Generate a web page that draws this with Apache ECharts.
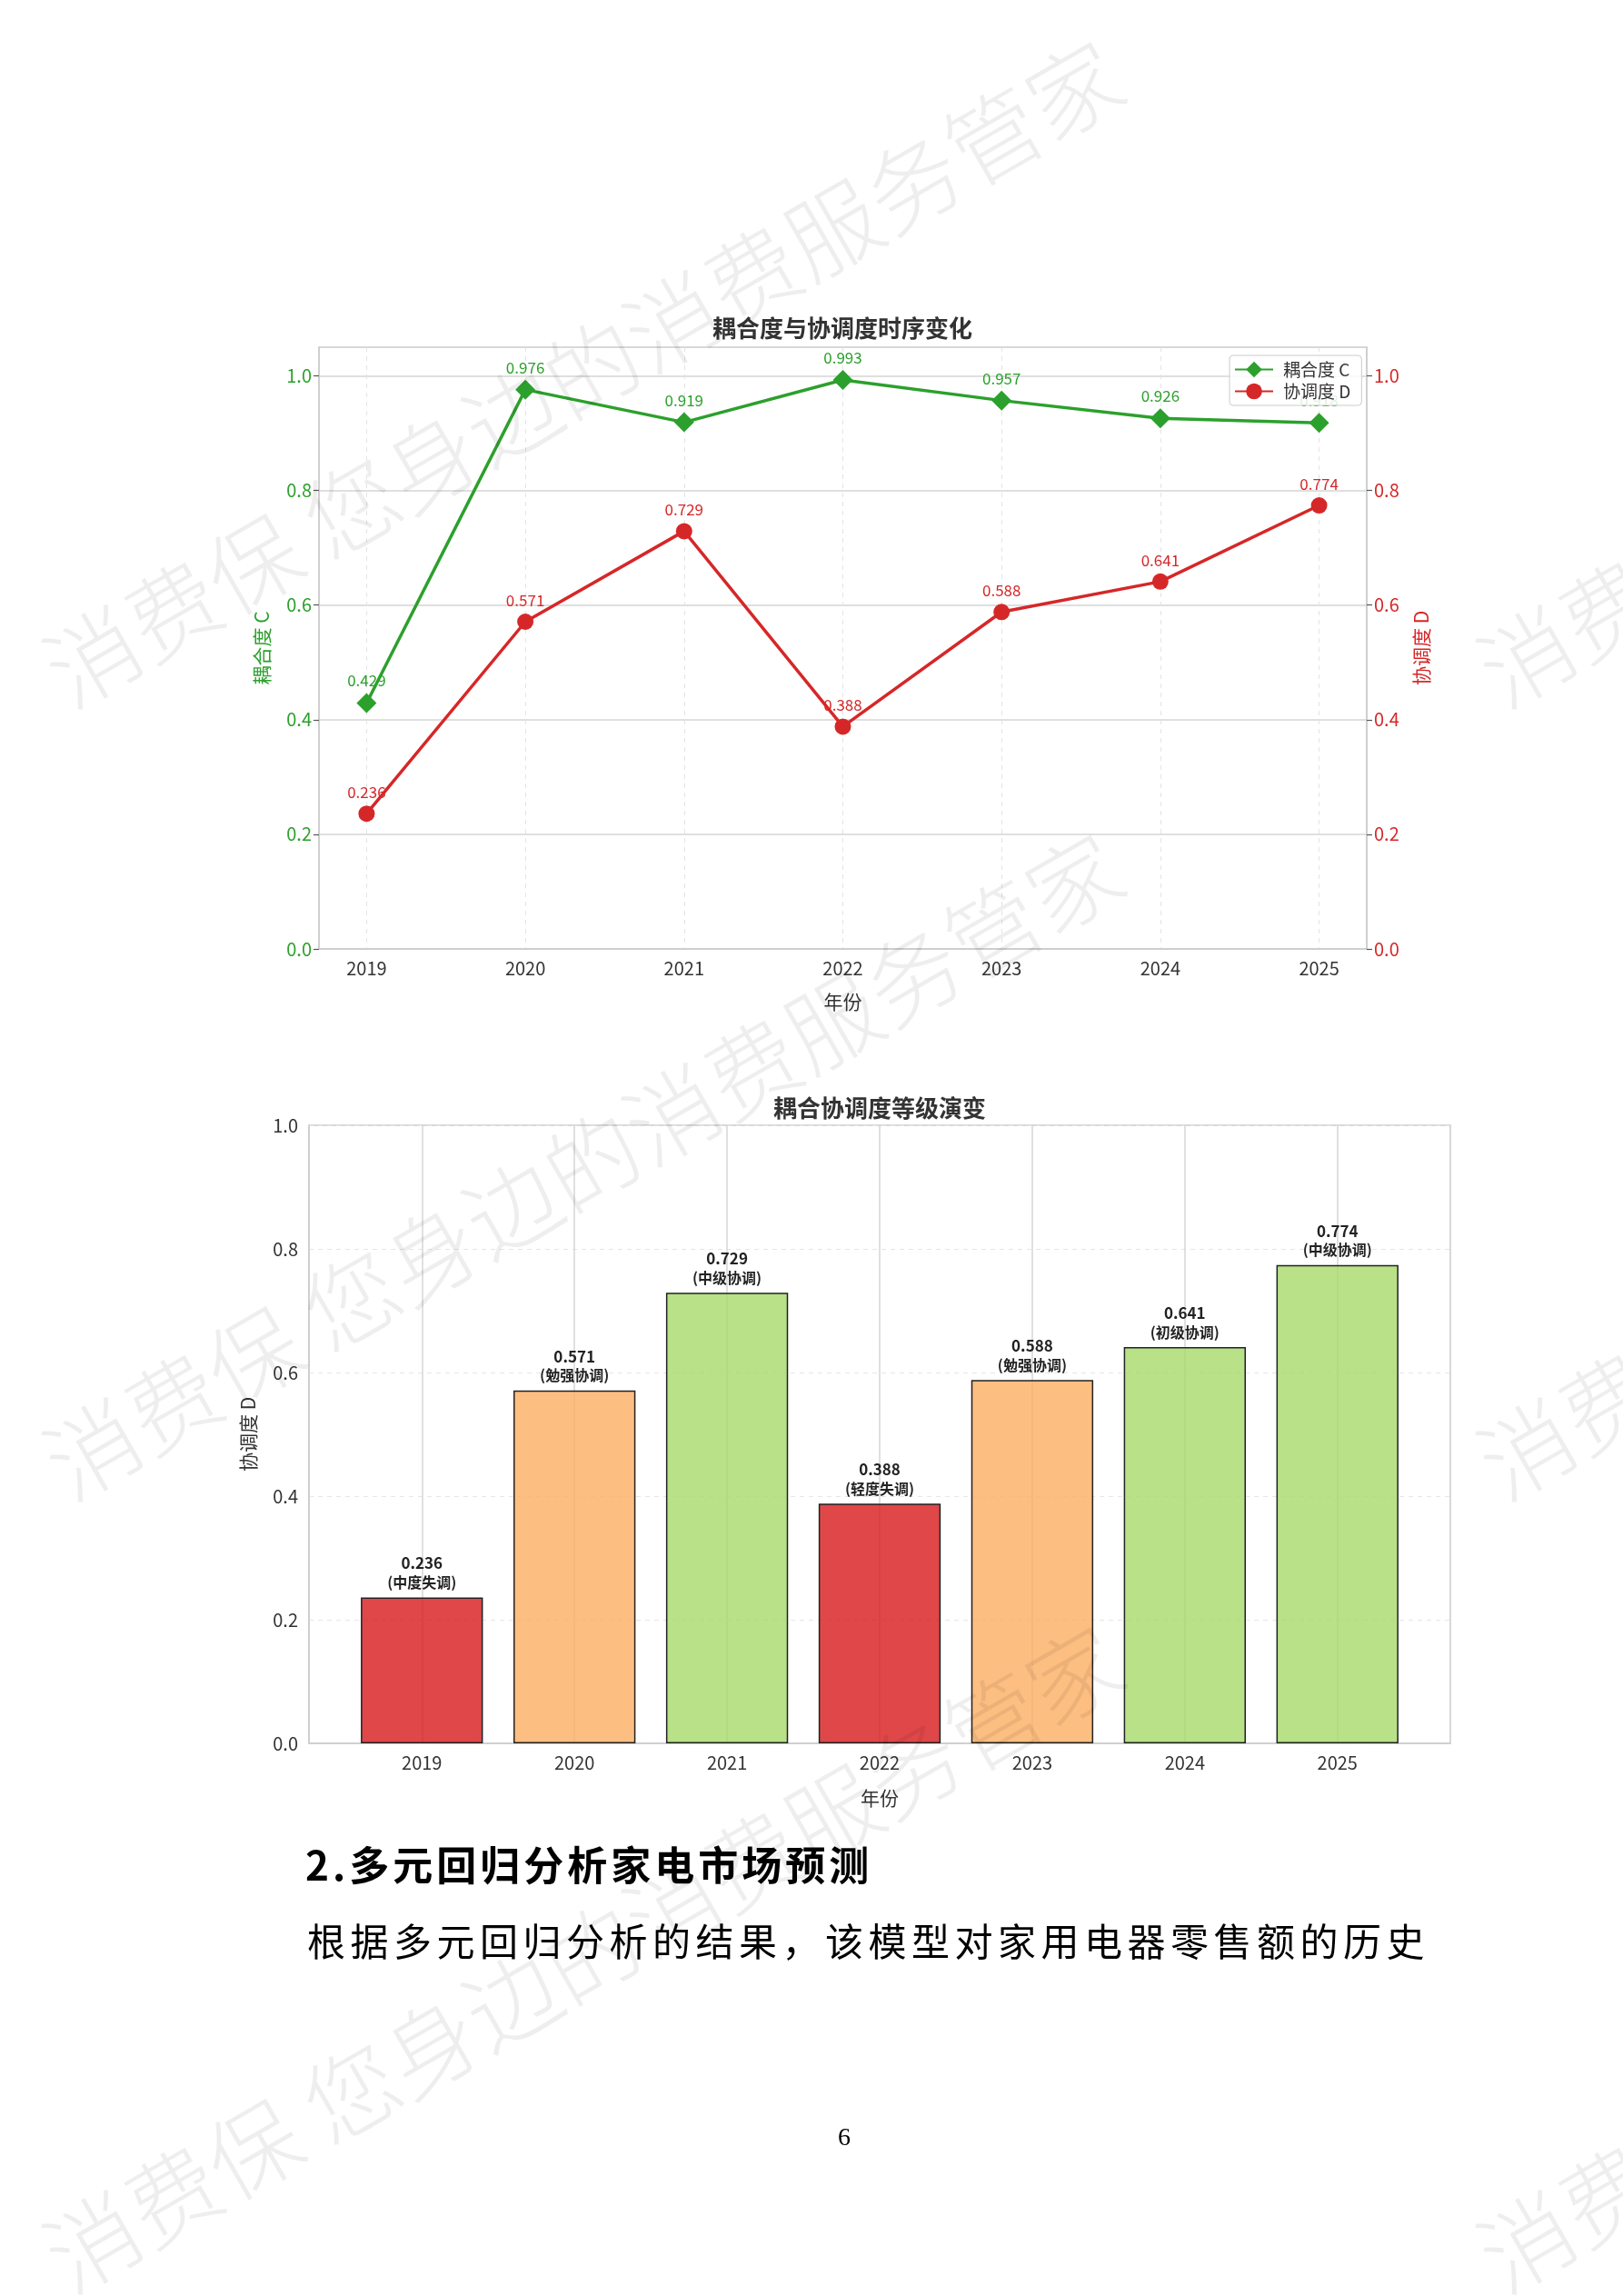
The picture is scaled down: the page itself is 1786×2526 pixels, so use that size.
<!DOCTYPE html>
<html>
<head>
<meta charset="utf-8">
<script src="https://cdn.jsdelivr.net/npm/echarts@6/dist/echarts.min.js"></script>
<style>
html,body{margin:0;padding:0;background:#fff;}
#page{position:relative;width:1786px;height:2526px;overflow:hidden;background:#fff;}
#chart{position:absolute;left:0;top:0;width:1786px;height:2526px;}
.txt{position:absolute;font-family:"Noto Sans CJK SC","Noto Sans",sans-serif;color:#000;white-space:nowrap;line-height:1;}
</style>
</head>
<body>
<div id="page">
  <div id="chart"></div>
  <div class="txt" style="left:336px;top:2028px;font-size:44px;font-weight:bold;letter-spacing:4px;">2.多元回归分析家电市场预测</div>
  <div class="txt" style="left:338px;top:2113px;font-size:42px;letter-spacing:5.5px;">根据多元回归分析的结果，该模型对家用电器零售额的历史</div>
  <div class="txt" style="left:922px;top:2337px;font-family:'Liberation Serif',serif;font-size:28px;">6</div>
</div>
<script>
// ---- data ----
const years = [2019, 2020, 2021, 2022, 2023, 2024, 2025];
const couplingC = [0.429, 0.976, 0.919, 0.993, 0.957, 0.926, 0.918];
const coordD = [0.236, 0.571, 0.729, 0.388, 0.588, 0.641, 0.774];
const levels = ['中度失调', '勉强协调', '中级协调', '轻度失调', '勉强协调', '初级协调', '中级协调'];
const yTicks = [0, 0.2, 0.4, 0.6, 0.8, 1.0];
const seriesNames = ['耦合度 C', '协调度 D'];

// ---- styles ----
const FONT = '"Noto Sans CJK SC","Noto Sans",sans-serif';
const GREEN = '#2ca02c';
const RED = '#d62728';
const levelColor = {
  '中度失调': 'rgba(215,25,28,0.8)',
  '轻度失调': 'rgba(215,25,28,0.8)',
  '勉强协调': 'rgba(253,174,97,0.8)',
  '初级协调': 'rgba(166,217,106,0.8)',
  '中级协调': 'rgba(166,217,106,0.8)'
};

const chart = echarts.init(document.getElementById('chart'), null, {renderer: 'canvas'});

// watermark tiles
const wm = [];
for (let i = 0; i < 2; i++) {
  for (let j = 0; j < 3; j++) {
    wm.push({
      type: 'text', silent: true, z: 100,
      x: 58 + i * 1578, y: 748 + j * 872,
      rotation: Math.PI / 6,
      style: {
        text: '消费保 您身边的消费服务管家',
        fontSize: 102, fontFamily: FONT, fontWeight: 300,
        fill: 'rgba(0,0,0,0.065)', align: 'left', verticalAlign: 'middle'
      }
    });
  }
}

const option = {
  backgroundColor: '#fff',
  animation: false,
  textStyle: {fontFamily: FONT},
  graphic: [
    {type: 'text', x: 927, y: 361, z: 10, style: {text: '耦合度与协调度时序变化', fontSize: 26, fontWeight: 'bold', fontFamily: FONT, fill: '#333', align: 'center', verticalAlign: 'middle'}},
    {type: 'text', x: 968, y: 1219, z: 10, style: {text: '耦合协调度等级演变', fontSize: 26, fontWeight: 'bold', fontFamily: FONT, fill: '#333', align: 'center', verticalAlign: 'middle'}}
  ].concat(wm),
  legend: {
    data: seriesNames,
    orient: 'vertical',
    left: 1353, top: 391,
    itemWidth: 42, itemHeight: 22, itemGap: 5,
    padding: [6, 12, 6, 5],
    backgroundColor: 'rgba(255,255,255,0.85)',
    borderColor: '#cccccc', borderWidth: 1, borderRadius: 4,
    textStyle: {fontSize: 19, color: '#333', fontFamily: FONT, padding: [0, 0, 0, 6]},
    z: 20
  },
  grid: [
    {left: 351, top: 382, width: 1153, height: 662, show: true, borderColor: '#cccccc', borderWidth: 1.5, backgroundColor: 'transparent'},
    {left: 340, top: 1238, width: 1256, height: 680, show: true, borderColor: '#cccccc', borderWidth: 1.5, backgroundColor: 'transparent'}
  ],
  xAxis: [
    {
      gridIndex: 0, type: 'value', min: years[0] - 0.3, max: years[years.length - 1] + 0.3,
      axisLine: {show: true, onZero: false, lineStyle: {color: '#cccccc', width: 1.5}},
      axisTick: {show: false, customValues: years},
      axisLabel: {customValues: years, color: '#333', fontSize: 20, margin: 11, formatter: v => String(v)},
      splitLine: {show: true, lineStyle: {color: '#e4e4e4', width: 1, type: [5, 5]}},
      name: '年份', nameLocation: 'middle', nameGap: 48,
      nameTextStyle: {color: '#333', fontSize: 21}
    },
    {
      gridIndex: 1, type: 'value', min: years[0] - 0.74, max: years[years.length - 1] + 0.74,
      axisLine: {show: true, onZero: false, lineStyle: {color: '#cccccc', width: 1.5}},
      axisTick: {show: false, customValues: years},
      axisLabel: {customValues: years, color: '#333', fontSize: 20, margin: 11, formatter: v => String(v)},
      splitLine: {show: true, lineStyle: {color: '#d6d6d6', width: 1.5}},
      name: '年份', nameLocation: 'middle', nameGap: 50,
      nameTextStyle: {color: '#333', fontSize: 21}
    }
  ],
  yAxis: [
    {
      gridIndex: 0, type: 'value', position: 'left', min: 0, max: 1.05, interval: 0.2,
      axisLine: {show: true, lineStyle: {color: '#cccccc', width: 1.5}},
      axisTick: {show: true, customValues: yTicks, length: 6, lineStyle: {color: '#555', width: 1.2}},
      axisLabel: {customValues: yTicks, color: GREEN, fontSize: 20, margin: 8, formatter: v => v.toFixed(1)},
      splitLine: {show: true, lineStyle: {color: '#d4d4d4', width: 1.5}},
      name: seriesNames[0], nameLocation: 'middle', nameRotate: 90, nameGap: 52,
      nameTextStyle: {color: GREEN, fontSize: 21}
    },
    {
      gridIndex: 0, type: 'value', position: 'right', min: 0, max: 1.05, interval: 0.2,
      axisLine: {show: true, lineStyle: {color: '#cccccc', width: 1.5}},
      axisTick: {show: true, customValues: yTicks, length: 6, lineStyle: {color: '#555', width: 1.2}},
      axisLabel: {customValues: yTicks, color: RED, fontSize: 20, margin: 8, formatter: v => v.toFixed(1)},
      splitLine: {show: false},
      name: seriesNames[1], nameLocation: 'middle', nameRotate: 90, nameGap: 50,
      nameTextStyle: {color: RED, fontSize: 21}
    },
    {
      gridIndex: 1, type: 'value', min: 0, max: 1, interval: 0.2,
      axisLine: {show: true, lineStyle: {color: '#cccccc', width: 1.5}},
      axisTick: {show: false},
      axisLabel: {color: '#333', fontSize: 20, margin: 12, formatter: v => v.toFixed(1)},
      splitLine: {show: true, lineStyle: {color: '#e6e6e6', width: 1, type: [5, 5]}},
      name: '协调度 D', nameLocation: 'middle', nameRotate: 90, nameGap: 56,
      nameTextStyle: {color: '#333', fontSize: 21}
    }
  ],
  series: [
    {
      name: seriesNames[0], type: 'line', xAxisIndex: 0, yAxisIndex: 0, z: 3,
      data: years.map((y, i) => [y, couplingC[i]]),
      symbol: 'diamond', symbolSize: 22,
      lineStyle: {color: GREEN, width: 3.5},
      itemStyle: {color: GREEN},
      label: {show: true, position: 'top', distance: 5, color: GREEN, fontSize: 17, formatter: p => p.value[1].toFixed(3)}
    },
    {
      name: seriesNames[1], type: 'line', xAxisIndex: 0, yAxisIndex: 1, z: 3,
      data: years.map((y, i) => [y, coordD[i]]),
      symbol: 'circle', symbolSize: 18,
      lineStyle: {color: RED, width: 3.5},
      itemStyle: {color: RED},
      label: {show: true, position: 'top', distance: 6, color: RED, fontSize: 17, formatter: p => p.value[1].toFixed(3)}
    },
    {
      name: '协调度等级', type: 'bar', xAxisIndex: 1, yAxisIndex: 2, z: 3,
      barWidth: '80%',
      data: years.map((y, i) => ({value: [y, coordD[i]], itemStyle: {color: levelColor[levels[i]]}})),
      itemStyle: {borderColor: '#222', borderWidth: 1.5},
      label: {
        show: true, position: 'top', distance: 6,
        formatter: p => '{v|' + p.value[1].toFixed(3) + '}\n{l|(' + levels[p.dataIndex] + ')}',
        rich: {
          v: {fontSize: 17, fontWeight: 'bold', color: '#222', lineHeight: 21, fontFamily: FONT},
          l: {fontSize: 16, fontWeight: 'bold', color: '#222', lineHeight: 21, fontFamily: FONT}
        }
      }
    }
  ]
};
chart.setOption(option);
</script>
</body>
</html>
